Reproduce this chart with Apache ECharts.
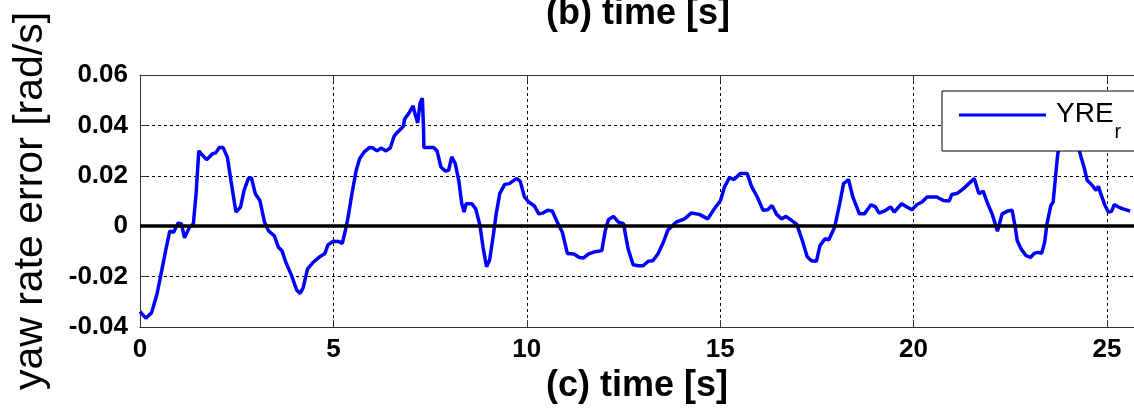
<!DOCTYPE html>
<html>
<head>
<meta charset="utf-8">
<script src="https://cdn.jsdelivr.net/npm/echarts@6/dist/echarts.min.js"></script>
<style>html,body{margin:0;padding:0;background:#fff;}#c{width:1134px;height:419px;}</style>
</head>
<body>
<div id="c"></div>
<script>
var timeS = [0, 0.15, 0.30, 0.44, 0.56, 0.68, 0.77, 0.87, 0.98, 1.07, 1.15, 1.28, 1.38, 1.45, 1.52, 1.58, 1.72, 1.88, 1.96, 2.05, 2.15, 2.26, 2.35, 2.48, 2.60, 2.69, 2.80, 2.88, 2.98, 3.10, 3.22, 3.33, 3.47, 3.58, 3.67, 3.77, 3.92, 4.05, 4.14, 4.22, 4.33, 4.48, 4.65, 4.78, 4.86, 4.99, 5.14, 5.23, 5.31, 5.38, 5.48, 5.59, 5.68, 5.80, 5.93, 6.01, 6.13, 6.23, 6.36, 6.47, 6.57, 6.67, 6.81, 6.84, 6.95, 7.06, 7.12, 7.18, 7.24, 7.30, 7.33, 7.34, 7.59, 7.68, 7.78, 7.89, 7.98, 8.06, 8.15, 8.24, 8.32, 8.38, 8.43, 8.58, 8.68, 8.79, 8.87, 8.96, 9.04, 9.14, 9.21, 9.30, 9.43, 9.55, 9.73, 9.83, 9.94, 10.05, 10.20, 10.31, 10.41, 10.54, 10.66, 10.79, 10.92, 11.05, 11.22, 11.36, 11.47, 11.60, 11.77, 11.94, 12.03, 12.11, 12.24, 12.37, 12.50, 12.62, 12.75, 12.88, 13.01, 13.14, 13.26, 13.39, 13.52, 13.65, 13.86, 14.08, 14.25, 14.46, 14.68, 14.85, 15.01, 15.11, 15.24, 15.36, 15.52, 15.70, 15.81, 15.96, 16.11, 16.23, 16.34, 16.46, 16.59, 16.70, 16.82, 16.98, 17.11, 17.25, 17.36, 17.49, 17.58, 17.71, 17.81, 17.96, 18.09, 18.19, 18.32, 18.43, 18.60, 18.73, 18.90, 19.01, 19.11, 19.28, 19.41, 19.50, 19.69, 19.83, 19.96, 20.09, 20.22, 20.35, 20.60, 20.77, 20.92, 20.99, 21.14, 21.29, 21.43, 21.57, 21.69, 21.80, 21.91, 22.03, 22.17, 22.29, 22.43, 22.55, 22.63, 22.68, 22.78, 22.91, 23.02, 23.12, 23.22, 23.31, 23.39, 23.45, 23.55, 23.61, 23.67, 23.72, 23.80, 23.95, 24.10, 24.20, 24.29, 24.33, 24.41, 24.49, 24.62, 24.72, 24.78, 24.84, 24.95, 25.04, 25.12, 25.19, 25.30, 25.42, 25.60];

var yreR = [-0.0339, -0.0365, -0.0343, -0.0269, -0.0177, -0.0084, -0.0020, -0.0024, 0.0012, 0.0010, -0.0046, -0.0004, 0.0010, 0.0129, 0.0299, 0.0288, 0.0264, 0.0288, 0.0291, 0.0312, 0.0312, 0.0273, 0.0182, 0.0056, 0.0076, 0.0142, 0.0189, 0.0193, 0.0129, 0.0102, 0.0016, -0.0020, -0.0037, -0.0084, -0.0097, -0.0143, -0.0196, -0.0253, -0.0267, -0.0243, -0.0170, -0.0143, -0.0121, -0.0108, -0.0074, -0.0060, -0.0061, -0.0068, -0.0017, 0.0036, 0.0129, 0.0222, 0.0269, 0.0295, 0.0312, 0.0311, 0.0299, 0.0310, 0.0299, 0.0310, 0.0357, 0.0375, 0.0397, 0.0424, 0.0448, 0.0477, 0.0441, 0.0410, 0.0488, 0.0508, 0.0394, 0.0312, 0.0312, 0.0299, 0.0235, 0.0219, 0.0222, 0.0275, 0.0249, 0.0182, 0.0089, 0.0056, 0.0089, 0.0089, 0.0069, 0.0003, -0.0084, -0.0161, -0.0134, -0.0030, 0.0049, 0.0129, 0.0166, 0.0169, 0.0189, 0.0179, 0.0116, 0.0096, 0.0080, 0.0049, 0.0052, 0.0063, 0.0060, 0.0016, -0.0024, -0.0108, -0.0110, -0.0124, -0.0126, -0.0110, -0.0101, -0.0097, -0.0017, 0.0026, 0.0039, 0.0016, 0.0010, -0.0090, -0.0153, -0.0157, -0.0157, -0.0139, -0.0137, -0.0110, -0.0068, -0.0015, 0.0016, 0.0029, 0.0052, 0.0047, 0.0029, 0.0069, 0.0102, 0.0155, 0.0193, 0.0185, 0.0209, 0.0209, 0.0158, 0.0116, 0.0063, 0.0065, 0.0082, 0.0047, 0.0029, 0.0039, 0.0026, 0.0007, -0.0050, -0.0121, -0.0137, -0.0139, -0.0077, -0.0050, -0.0054, -0.0004, 0.0089, 0.0169, 0.0185, 0.0116, 0.0049, 0.0049, 0.0085, 0.0078, 0.0052, 0.0063, 0.0076, 0.0056, 0.0089, 0.0076, 0.0065, 0.0086, 0.0096, 0.0116, 0.0116, 0.0102, 0.0100, 0.0126, 0.0131, 0.0149, 0.0169, 0.0189, 0.0129, 0.0139, 0.0092, 0.0049, -0.0020, 0.0049, 0.0060, 0.0063, -0.0004, -0.0057, -0.0090, -0.0117, -0.0124, -0.0108, -0.0104, -0.0108, -0.0064, 0.0010, 0.0082, 0.0096, 0.0195, 0.0275, 0.0360, 0.0410, 0.0430, 0.0380, 0.0299, 0.0275, 0.0233, 0.0182, 0.0162, 0.0142, 0.0158, 0.0129, 0.0082, 0.0056, 0.0059, 0.0086, 0.0076, 0.0069, 0.0060];

var xTickLabels = ['0', '5', '10', '15', '20', '25'];
var yTickLabels = ['-0.04', '-0.02', '0', '0.02', '0.04', '0.06'];

var FONT = "'Liberation Sans', Arial, sans-serif";
var pts = timeS.map(function (t, i) { return [t, yreR[i]]; });

var chart = echarts.init(document.getElementById('c'));
chart.setOption({
  animation: false,
  backgroundColor: '#fff',
  title: {
    text: '(b) time [s]',
    left: 546, top: -4, padding: 0,
    textStyle: { fontFamily: FONT, fontSize: 36, fontWeight: 'bold', color: '#000' }
  },
  grid: { left: 140, top: 75, right: -10, bottom: 92, containLabel: false },
  legend: {
    data: ['YRE'],
    left: 942, top: 91,
    padding: [9, 40, 9, 17],
    backgroundColor: '#fff',
    borderColor: '#000', borderWidth: 1, borderRadius: 0,
    icon: 'rect', itemWidth: 87, itemHeight: 3,
    formatter: function () { return '{m|YRE}{s|r}'; },
    textStyle: {
      rich: {
        m: { fontFamily: FONT, fontSize: 28, lineHeight: 30, color: '#000', verticalAlign: 'top', padding: [0, 0, 0, 5] },
        s: { fontFamily: FONT, fontSize: 20, lineHeight: 20, color: '#000', verticalAlign: 'top', padding: [22, 0, 0, 1] }
      }
    }
  },
  xAxis: [{
    type: 'value', min: 0, max: 25.7, interval: 5,
    name: '(c) time [s]', nameLocation: 'middle', nameGap: 30,
    nameTextStyle: { fontFamily: FONT, fontSize: 36, fontWeight: 'bold', color: '#000' },
    axisLine: { show: true, onZero: false, lineStyle: { color: '#333', width: 1 } },
    axisTick: { show: true, inside: true, length: 7, lineStyle: { color: '#333' } },
    axisLabel: {
      margin: 10, fontFamily: FONT, fontSize: 26, fontWeight: 'bold', color: '#000',
      showMaxLabel: false,
      formatter: function (v) { var i = Math.round(v / 5); return Math.abs(v - i * 5) < 1e-6 ? xTickLabels[i] : ''; }
    },
    splitLine: { show: true, lineStyle: { color: '#000', width: 1, type: [3, 3] } }
  }, {
    type: 'value', min: 0, max: 25.7, interval: 5, position: 'top',
    axisLine: { show: true, onZero: false, lineStyle: { color: '#333', width: 1 } },
    axisTick: { show: true, inside: true, length: 7, lineStyle: { color: '#333' } },
    axisLabel: { show: false }, splitLine: { show: false }
  }],
  yAxis: {
    type: 'value', min: -0.04, max: 0.06, interval: 0.02,
    name: 'yaw rate error [rad/s]', nameLocation: 'middle', nameGap: 89, nameRotate: 90,
    nameTextStyle: { fontFamily: FONT, fontSize: 41, color: '#000' },
    axisLine: { show: true, onZero: false, lineStyle: { color: '#333', width: 1 } },
    axisTick: { show: true, inside: true, length: 7, lineStyle: { color: '#333' } },
    axisLabel: {
      margin: 12, fontFamily: FONT, fontSize: 26, fontWeight: 'bold', color: '#000',
      formatter: function (v) { var i = Math.round((v + 0.04) / 0.02); return yTickLabels[i]; }
    },
    splitLine: { show: true, lineStyle: { color: '#000', width: 1, type: [3, 3] } }
  },
  series: [{
    name: 'YRE', type: 'line', xAxisIndex: 0, data: pts,
    showSymbol: false, symbol: 'none',
    lineStyle: { color: '#0000ff', width: 3.5 }, itemStyle: { color: '#0000ff' },
    markLine: {
      silent: true, symbol: ['none', 'none'], label: { show: false },
      lineStyle: { color: '#000', width: 3.5, type: 'solid' },
      data: [{ yAxis: 0 }]
    }
  }]
});
</script>
</body>
</html>
